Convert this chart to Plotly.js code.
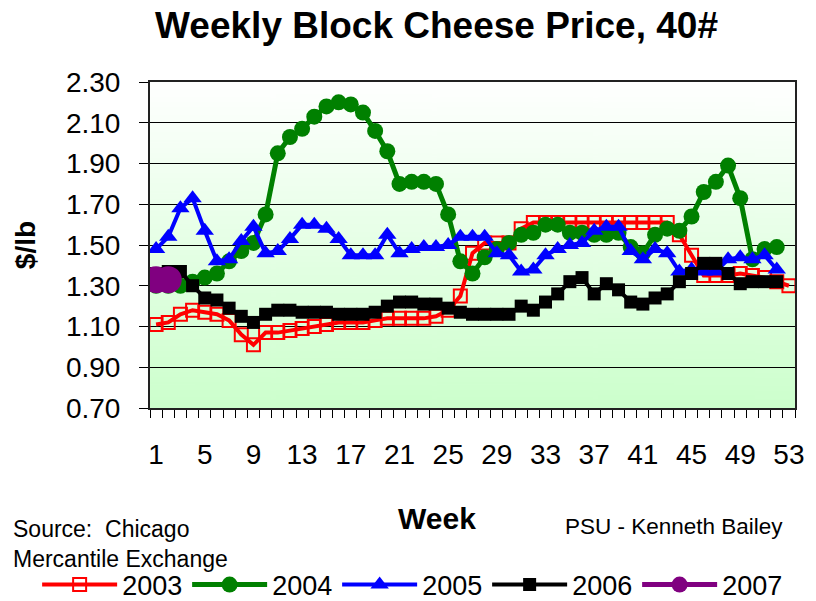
<!DOCTYPE html>
<html>
<head>
<meta charset="utf-8">
<script src="https://cdn.plot.ly/plotly-3.0.1.min.js"></script>
<style>html,body{margin:0;padding:0;background:#fff;}#chart{width:816px;height:601px;}</style>
</head>
<body>
<div id="chart"></div>
<script>
// ---- data ----
const weeks = [1,2,3,4,5,6,7,8,9,10,11,12,13,14,15,16,17,18,19,20,21,22,23,24,25,26,27,28,29,30,31,32,33,34,35,36,37,38,39,40,41,42,43,44,45,46,47,48,49,50,51,52,53];
const xTickVals = [1,5,9,13,17,21,25,29,33,37,41,45,49,53];
const seriesNames = ['2003','2004','2005','2006','2007'];
const p2003 = [1.11,1.12,1.16,1.18,1.17,1.16,1.13,1.06,1.01,1.07,1.07,1.08,1.09,1.10,1.11,1.12,1.12,1.12,1.13,1.14,1.14,1.14,1.14,1.15,1.18,1.25,1.46,1.51,1.51,1.51,1.58,1.61,1.61,1.61,1.61,1.61,1.61,1.61,1.61,1.61,1.61,1.61,1.61,1.55,1.45,1.35,1.35,1.35,1.36,1.35,1.34,1.32,1.30];
const p2004 = [1.30,1.30,1.30,1.32,1.34,1.36,1.42,1.47,1.51,1.65,1.95,2.03,2.07,2.13,2.18,2.20,2.19,2.15,2.06,1.96,1.80,1.81,1.81,1.80,1.65,1.42,1.36,1.44,1.48,1.51,1.55,1.56,1.60,1.60,1.56,1.56,1.55,1.55,1.56,1.49,1.46,1.55,1.58,1.57,1.64,1.76,1.81,1.89,1.73,1.43,1.48,1.49];
const p2005 = [1.48,1.54,1.68,1.73,1.57,1.42,1.43,1.52,1.59,1.46,1.47,1.53,1.60,1.60,1.58,1.53,1.45,1.45,1.45,1.55,1.46,1.48,1.49,1.49,1.50,1.54,1.54,1.54,1.46,1.45,1.37,1.38,1.45,1.48,1.50,1.51,1.57,1.59,1.59,1.47,1.43,1.48,1.46,1.37,1.38,1.37,1.37,1.43,1.44,1.43,1.45,1.38];
const p2006 = [1.36,1.37,1.37,1.30,1.24,1.23,1.19,1.15,1.12,1.16,1.18,1.18,1.17,1.17,1.17,1.16,1.16,1.16,1.17,1.20,1.22,1.22,1.21,1.21,1.19,1.17,1.16,1.16,1.16,1.16,1.20,1.18,1.22,1.26,1.32,1.34,1.26,1.31,1.28,1.22,1.21,1.24,1.26,1.32,1.36,1.41,1.41,1.36,1.31,1.32,1.32,1.32];
const p2007 = [1.33,1.33];

// ---- styles ----
const FONT = 'Liberation Sans, Arial, sans-serif';
function grad(){
  const c = document.createElement('canvas');
  c.width = 8; c.height = 256;
  const g = c.getContext('2d');
  const lg = g.createLinearGradient(0,0,0,256);
  lg.addColorStop(0,'#ffffff');
  lg.addColorStop(1,'#ccffcc');
  g.fillStyle = lg; g.fillRect(0,0,8,256);
  return c.toDataURL('image/png');
}

function tr(name, y, color, lw, symbol, msize, mline){
  return {
    type:'scatter', mode:'lines+markers', name:name,
    x: weeks.slice(0, y.length), y:y,
    line:{color:color, width:lw},
    marker:{symbol:symbol, size:msize, color:color, line:{color:color, width:mline}}
  };
}
const data = [
  tr(seriesNames[0], p2003, '#ff0000', 4, 'square-open', 13, 2),
  tr(seriesNames[1], p2004, '#008000', 5, 'circle', 16, 0),
  tr(seriesNames[2], p2005, '#0000ff', 4, 'triangle-up', 16, 0),
  tr(seriesNames[3], p2006, '#000000', 4, 'square', 13, 0),
  tr(seriesNames[4], p2007, '#800080', 5, 'circle', 27, 0)
];

const layout = {
  width:816, height:601,
  margin:{l:150, r:21, t:82, b:193, autoexpand:false},
  paper_bgcolor:'#ffffff', plot_bgcolor:'rgba(0,0,0,0)',
  font:{family:FONT, color:'#000'},
  title:{text:'<b>Weekly Block Cheese Price, 40#</b>', font:{family:FONT, size:37, color:'#000'},
         x:0.535, xanchor:'center', y:0.958, yanchor:'middle'},
  images:[{source:grad(), xref:'paper', yref:'paper', x:0, y:1, sizex:1, sizey:1,
           xanchor:'left', yanchor:'top', sizing:'stretch', layer:'below'}],
  xaxis:{
    range:[0.5,53.5], tickmode:'array', tickvals:xTickVals, ticktext:xTickVals.map(String),
    ticks:'outside', ticklen:0, ticklabelstandoff:20,
    tickfont:{family:FONT, size:28, color:'#000'},
    minor:{tick0:0.5, dtick:1, ticks:'outside', ticklen:8, tickcolor:'#000', tickwidth:1, showgrid:false},
    showgrid:false, zeroline:false,
    showline:true, linecolor:'#222', linewidth:2, mirror:true
  },
  yaxis:{
    range:[0.7,2.3], tick0:0.7, dtick:0.2, tickformat:'.2f',
    ticks:'outside', ticklen:9, tickcolor:'#000', ticklabelstandoff:13,
    tickfont:{family:FONT, size:28, color:'#000'},
    showgrid:true, gridcolor:'#000', gridwidth:1, zeroline:false,
    showline:true, linecolor:'#222', linewidth:2, mirror:true,
    title:{text:'<b>$/lb</b>', font:{family:FONT, size:28, color:'#000'}, standoff:22}
  },
  showlegend:true,
  legend:{orientation:'h', x:-0.175, xanchor:'left', y:-0.543, yanchor:'middle',
          font:{family:FONT, size:27, color:'#000'}, itemwidth:75, entrywidth:60, entrywidthmode:'pixels',
          bgcolor:'rgba(0,0,0,0)', tracegroupgap:0},
  annotations:[
    {text:'<b>Week</b>', xref:'paper', yref:'paper', x:0.445, y:-0.338, xanchor:'center', yanchor:'middle',
     showarrow:false, font:{family:FONT, size:30, color:'#000'}},
    {text:'Source:  Chicago<br>Mercantile Exchange', xref:'paper', yref:'paper', x:-0.216, y:-0.325,
     xanchor:'left', yanchor:'top', align:'left', showarrow:false, font:{family:FONT, size:23, color:'#000'}},
    {text:'PSU - Kenneth Bailey', xref:'paper', yref:'paper', x:0.985, y:-0.365,
     xanchor:'right', yanchor:'middle', align:'right', showarrow:false, font:{family:FONT, size:22.5, color:'#000'}}
  ]
};
Plotly.newPlot('chart', data, layout, {displayModeBar:false, staticPlot:true});
</script>
</body>
</html>
